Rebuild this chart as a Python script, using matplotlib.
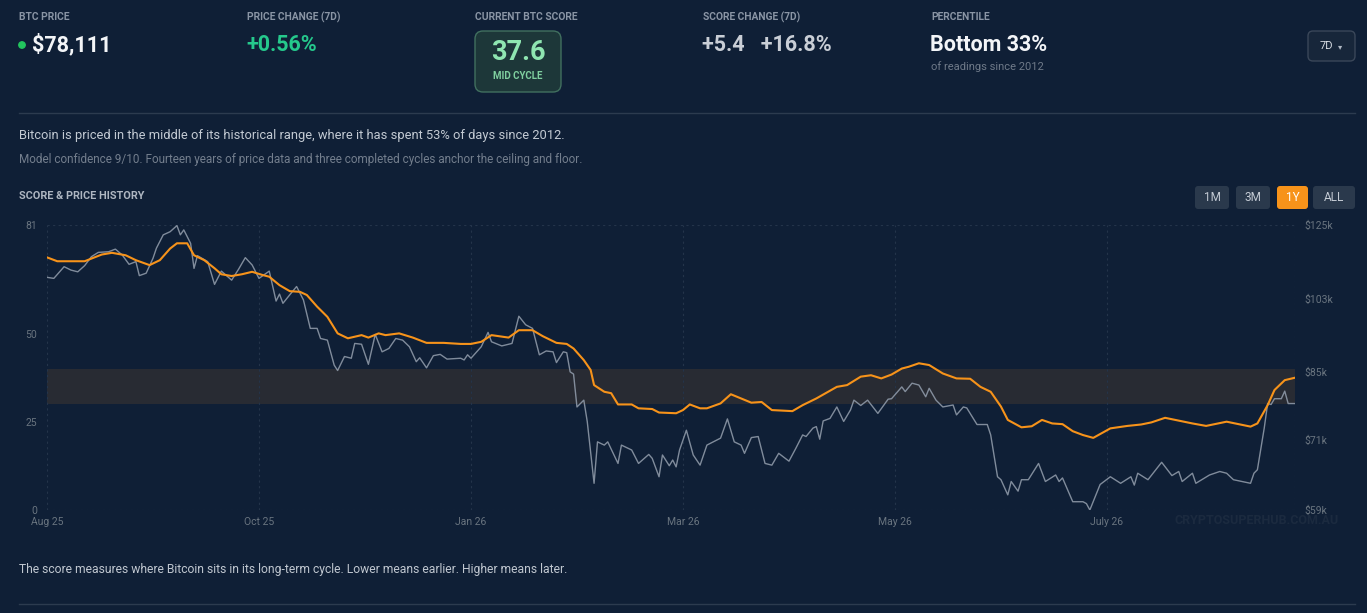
import matplotlib
matplotlib.use("Agg")
import matplotlib.pyplot as plt
from matplotlib.patches import Rectangle, FancyBboxPatch, Circle
from matplotlib.transforms import IdentityTransform
from matplotlib.lines import Line2D

W, H = 1367, 613

# score history (left axis), day offset from start of the 1Y window
score_days = [0, 3, 11, 16, 19, 23, 26, 30, 33, 36, 38, 41, 43, 46, 49, 51, 54, 57, 60, 63,
              65, 68, 71, 74, 76, 79, 82, 85, 88, 92, 94, 97, 99, 103, 107, 111, 116, 121, 124, 127,
              130, 135, 138, 142, 145, 149, 152, 154, 157, 159, 160, 163, 165, 167, 171, 173, 177, 179, 184, 186,
              188, 191, 193, 197, 200, 203, 206, 209, 212, 218, 221, 225, 231, 234, 238, 241, 244, 247, 250, 252,
              255, 258, 262, 266, 270, 273, 276, 279, 281, 285, 288, 291, 294, 297, 300, 303, 306, 311, 316, 320,
              323, 327, 331, 335, 339, 345, 352, 354, 357, 359, 362, 365]
score_vals = [71.8, 70.7, 70.7, 72.6, 73.1, 72.4, 71.0, 69.6, 71.0, 74.3, 75.8, 75.8, 72.4, 71.0, 68.7, 67.0, 66.5, 67.0, 67.7, 66.8,
              66.3, 63.9, 62.2, 62.0, 61.1, 57.8, 54.9, 50.2, 48.8, 49.7, 49.0, 50.2, 49.7, 50.2, 49.0, 47.5, 47.5, 47.2, 47.2, 47.8,
              49.7, 49.0, 51.1, 51.1, 49.4, 47.5, 47.2, 45.9, 42.6, 39.8, 35.5, 33.6, 33.2, 30.0, 30.0, 28.9, 28.7, 27.7, 27.5, 28.4,
              30.0, 28.9, 28.9, 30.3, 32.9, 31.7, 30.5, 30.7, 28.4, 28.1, 29.8, 31.7, 35.0, 35.5, 37.9, 38.3, 37.4, 38.5, 40.2, 40.7,
              41.7, 41.2, 38.8, 37.4, 37.3, 35.0, 33.6, 29.4, 25.6, 23.5, 23.8, 25.6, 24.6, 24.4, 22.4, 21.3, 20.5, 23.2, 23.9, 24.3,
              24.9, 26.2, 25.4, 24.6, 23.9, 25.1, 23.7, 24.6, 29.8, 34.1, 36.9, 37.6]

# BTC price in $k (right axis, log)
price_days = [0, 2, 5, 7, 9, 11, 13, 15, 18, 20, 22, 24, 26, 27, 29, 31, 32, 34, 36, 38,
              39, 40, 42, 43, 44, 47, 49, 51, 54, 56, 58, 60, 62, 65, 67, 68, 69, 71, 73, 75,
              77, 79, 80, 82, 84, 85, 87, 89, 90, 92, 94, 96, 98, 100, 102, 104, 106, 108, 109, 111,
              113, 115, 117, 121, 122, 123, 124, 127, 129, 130, 133, 136, 138, 140, 142, 144, 146, 148, 149, 151,
              152, 153, 154, 155, 157, 158, 160, 161, 163, 164, 167, 168, 171, 173, 176, 177, 179, 180, 182, 183,
              184, 185, 187, 189, 191, 193, 197, 199, 201, 203, 204, 206, 208, 210, 212, 214, 217, 219, 221, 222,
              224, 225, 226, 227, 229, 231, 233, 235, 236, 238, 240, 243, 246, 247, 250, 251, 253, 255, 257, 258,
              260, 262, 265, 266, 268, 269, 272, 275, 276, 278, 279, 281, 282, 284, 285, 287, 290, 292, 295, 296,
              297, 300, 303, 304, 305, 308, 311, 314, 317, 318, 319, 322, 326, 329, 331, 332, 335, 336, 340, 343,
              345, 347, 352, 353, 354, 356, 357, 358, 359, 361, 362, 363, 365]
price_vals = [108.9, 108.6, 112.0, 111.0, 110.5, 112.3, 115.0, 116.3, 116.5, 117.3, 115.5, 112.7, 113.5, 109.4, 110.1, 114.5, 117.6, 121.8, 122.8, 124.8,
              121.8, 123.4, 119.1, 111.5, 115.3, 113.5, 106.9, 110.7, 108.1, 111.2, 114.7, 112.5, 108.6, 110.7, 102.3, 104.2, 101.7, 104.0, 106.3, 102.6,
              95.2, 95.2, 92.7, 92.3, 86.4, 85.2, 88.4, 88.0, 91.5, 91.3, 86.6, 93.7, 89.5, 90.3, 92.7, 92.3, 90.7, 87.2, 88.1, 85.8,
              88.6, 88.9, 87.8, 88.0, 87.6, 88.8, 88.0, 90.7, 94.2, 91.9, 90.9, 91.5, 98.3, 96.1, 95.2, 88.8, 89.7, 89.5, 87.0, 89.5,
              89.3, 84.9, 84.4, 77.4, 78.8, 74.5, 63.3, 70.6, 70.0, 70.6, 66.7, 70.0, 69.1, 66.7, 68.3, 67.6, 64.4, 68.2, 66.3, 67.3,
              66.1, 69.1, 72.8, 68.2, 66.4, 70.0, 71.3, 75.0, 70.6, 70.0, 68.5, 71.4, 71.6, 66.7, 66.4, 68.5, 67.1, 69.4, 71.9, 71.6,
              73.2, 73.5, 71.1, 74.6, 75.1, 77.4, 74.5, 76.8, 78.8, 77.7, 78.8, 76.1, 79.0, 79.1, 81.6, 80.6, 82.4, 82.0, 79.5, 81.3,
              78.8, 77.4, 77.8, 75.8, 77.4, 77.2, 73.9, 73.9, 71.9, 64.4, 63.9, 61.4, 63.6, 62.0, 63.9, 63.9, 66.7, 63.6, 64.7, 63.6,
              64.2, 60.3, 60.3, 60.0, 59.0, 63.1, 64.4, 63.3, 64.4, 63.0, 65.0, 63.9, 66.9, 64.6, 65.3, 63.6, 65.0, 63.3, 64.7, 65.3,
              65.0, 63.9, 63.3, 65.0, 65.6, 73.2, 78.1, 77.9, 79.1, 79.1, 80.7, 78.1, 78.1]

x_tick_days = [0, 62, 124, 186, 248, 310]
x_tick_labels = ['Aug 25', 'Oct 25', 'Jan 26', 'Mar 26', 'May 26', 'July 26']
score_ticks = [0, 25, 50, 81]
price_ticks = [59, 71, 85, 103, 125]
price_tick_labels = ['$59k', '$71k', '$85k', '$103k', '$125k']
mid_band = [30, 40]
range_buttons = ['1M', '3M', '1Y', 'ALL']

bg = '#0f1f36'
lab = '#8a95a5'
orange = '#f7931a'

plt.rcParams['font.family'] = ['Liberation Sans Narrow', 'Roboto', 'DejaVu Sans']

fig = plt.figure(figsize=(W / 100, H / 100), dpi=100, facecolor=bg)


def fx(x):
    return x / W


def fy(y):
    return 1 - y / H


def box(x0, y0, x1, y1, fc, ec, r=5, lw=1.0):
    p = FancyBboxPatch((x0, H - y1), x1 - x0, y1 - y0,
                       boxstyle='round,pad=0,rounding_size=%s' % r,
                       fc=fc, ec=ec, lw=lw, transform=IdentityTransform())
    fig.add_artist(p)


def hline(y, x0=19, x1=1355, c='#2c3b4f'):
    fig.add_artist(Line2D([fx(x0), fx(x1)], [fy(y), fy(y)], color=c, lw=1))


# header row
fig.text(fx(19), fy(17), 'BTC PRICE', color=lab, fontsize=7.4, va='center', fontweight='bold')
fig.add_artist(Circle((22, H - 45), 3.2, color='#22c55e', transform=IdentityTransform()))
fig.text(fx(32), fy(45), '$78,111', color='#f3f5f8', fontsize=15.5, va='center', fontweight='bold')

fig.text(fx(247), fy(17), 'PRICE CHANGE (7D)', color=lab, fontsize=7.4, va='center', fontweight='bold')
fig.text(fx(246), fy(45), '+0.56%', color='#25c88c', fontsize=15.5, va='center', fontweight='bold')

fig.text(fx(475), fy(17), 'CURRENT BTC SCORE', color=lab, fontsize=7.4, va='center', fontweight='bold')
box(475, 31, 561, 92, '#1d3739', '#41705f', r=8)
fig.text(fx(518), fy(53), '37.6', color='#8fe6b1', fontsize=19.5, ha='center', va='center', fontweight='bold')
fig.text(fx(518), fy(76), 'MID CYCLE', color='#7fcf9f', fontsize=7, ha='center', va='center', fontweight='bold')

fig.text(fx(703), fy(17), 'SCORE CHANGE (7D)', color=lab, fontsize=7.4, va='center', fontweight='bold')
fig.text(fx(702), fy(45), '+5.4   +16.8%', color='#c9ced6', fontsize=15.5, va='center', fontweight='bold')

fig.text(fx(931), fy(17), 'PERCENTILE', color=lab, fontsize=7.4, va='center', fontweight='bold')
fig.text(fx(930), fy(45), 'Bottom 33%', color='#f3f5f8', fontsize=15.5, va='center', fontweight='bold')
fig.text(fx(931), fy(67), 'of readings since 2012', color='#6f7a89', fontsize=8, va='center')

box(1308, 31, 1355, 61, '#17263a', '#3a4759', r=5)
fig.text(fx(1326), fy(46), '7D', color='#d6dbe2', fontsize=8, ha='center', va='center')
fig.text(fx(1340), fy(47), '\u25be', color='#b0b8c4', fontsize=6, ha='center', va='center', family='DejaVu Sans')

hline(113)

fig.text(fx(19), fy(135), 'Bitcoin is priced in the middle of its historical range, where it has spent 53% of days since 2012.',
         color='#c3cad3', fontsize=9.25, va='center')
fig.text(fx(19), fy(159), 'Model confidence 9/10. Fourteen years of price data and three completed cycles anchor the ceiling and floor.',
         color='#737e8d', fontsize=8.5, va='center')
fig.text(fx(19), fy(196), 'SCORE & PRICE HISTORY', color='#aeb6c1', fontsize=7.8, va='center', fontweight='bold')

# range buttons
btn_x = [(1195, 1229), (1236, 1270), (1277, 1308), (1313, 1355)]
for (x0, x1), name in zip(btn_x, range_buttons):
    active = name == '1Y'
    box(x0, 186, x1, 209, orange if active else '#2a394c', 'none', r=3)
    fig.text(fx((x0 + x1) / 2), fy(197.5), name, color='#ffffff' if active else '#c4cbd4',
             fontsize=8.5, ha='center', va='center')

# chart: sc = score axis (left), pr = price axis (right, log)
sc = fig.add_axes([fx(47), fy(510), 1248 / W, 285 / H])
pr = sc.twinx()
pr.set_zorder(1)
sc.set_zorder(2)
sc.patch.set_visible(False)
pr.patch.set_visible(False)

sc.set_xlim(0, 365)
sc.set_ylim(0, 81)
pr.set_yscale('log')
pr.set_ylim(59, 125)

# band and grid go on the lower axes so the price line sits above them
pr.add_patch(Rectangle((0, mid_band[0]), 365, mid_band[1] - mid_band[0], fc='#282b33', ec='none',
                       zorder=0, transform=sc.transData))
for d in x_tick_days + [365]:
    pr.axvline(d, color='#24344a', lw=0.8, ls=(0, (2, 3)), zorder=0.5)
for s in [0, 81]:
    pr.add_artist(Line2D([0, 365], [s, s], color='#24344a', lw=0.8, ls=(0, (2, 3)), zorder=0.5,
                         transform=sc.transData))

pr.plot(price_days, price_vals, color='#8d98a7', lw=1.0, alpha=0.9, zorder=2)
sc.plot(score_days, score_vals, color=orange, lw=1.5, zorder=3)
pr.set_ylim(59, 125)

for a in (sc, pr):
    for sp in a.spines.values():
        sp.set_visible(False)

sc.set_xticks(x_tick_days)
sc.set_xticklabels(x_tick_labels)
sc.set_yticks(score_ticks)
sc.set_yticklabels([str(t) for t in score_ticks])
sc.tick_params(axis='both', length=0, labelsize=7.5, labelcolor='#69747f')
sc.tick_params(axis='y', pad=7)
sc.tick_params(axis='x', pad=5)

pr.yaxis.set_minor_locator(matplotlib.ticker.NullLocator())
pr.set_yticks(price_ticks)
pr.set_yticklabels(price_tick_labels)
pr.tick_params(axis='y', length=0, labelsize=7.5, labelcolor='#69747f', pad=7)

fig.text(fx(1257), fy(521), 'CRYPTOSUPERHUB.COM.AU', color='#1b2a3f', fontsize=9,
         ha='center', va='center', fontweight='bold')

fig.text(fx(19), fy(570), 'The score measures where Bitcoin sits in its long-term cycle. Lower means earlier. Higher means later.',
         color='#c0c7d0', fontsize=8.75, va='center')
hline(604)

fig.savefig('out.png', dpi=100, facecolor=bg)
